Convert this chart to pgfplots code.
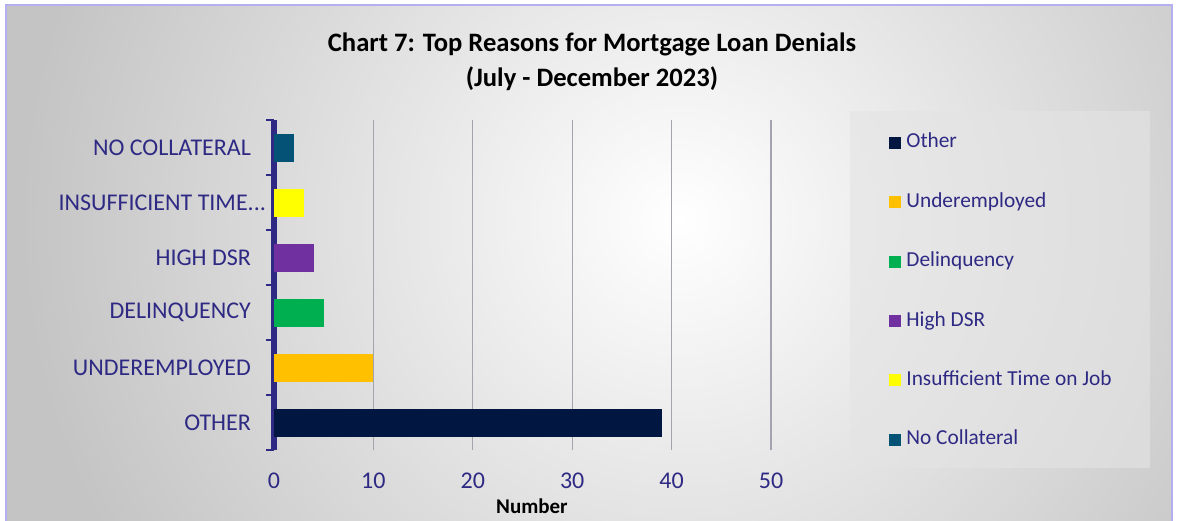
\documentclass[border=0pt]{standalone}
\usepackage{fontspec}
\setmainfont{Carlito}
\usepackage{pgfplots}
\pgfplotsset{compat=1.18}
\definecolor{txt}{HTML}{2E2A84}
\definecolor{gridc}{HTML}{A4A4B0}
\definecolor{bgedge}{HTML}{C4C4C4}
\definecolor{framec}{HTML}{B4B0F0}
\definecolor{legfill}{HTML}{E4E4E4}
\definecolor{cother}{HTML}{011640}
\definecolor{cunder}{HTML}{FFC000}
\definecolor{cdelin}{HTML}{00B050}
\definecolor{cdsr}{HTML}{7030A0}
\definecolor{cinsuf}{HTML}{FFFF00}
\definecolor{ccoll}{HTML}{045376}

\begin{document}
\begin{tikzpicture}[x=1pt,y=1pt]
\useasboundingbox (0,0) rectangle (588.5,260);
\fill[white] (0,0) rectangle (588.5,260);
% background panel with soft radial gradient
\begin{scope}
  \clip (3,-5) rectangle (586,257.5);
  \fill[bgedge] (3,-5) rectangle (586,257.5);
  \shade[inner color=white, outer color=bgedge] (340,150) ellipse [x radius=330, y radius=320];
\end{scope}
\draw[framec, line width=1pt] (3,-5) -- (3,257.5) -- (586,257.5) -- (586,-5);
% legend panel
\fill[legfill, opacity=0.6] (425,26) rectangle (575,204.5);
% title
\node[align=center, font=\bfseries\fontsize{13.3}{17.5}\selectfont] at (296,229.3)
  {Chart 7: Top Reasons for Mortgage Loan Denials\\(July - December 2023)};

\begin{axis}[
  at={(137pt,35pt)}, anchor=south west,
  width=248.5pt, height=165pt, scale only axis,
  clip=false,
  xbar, bar width=14pt, bar shift=0pt,
  xmin=0, xmax=50, ymin=-0.5, ymax=5.5,
  xtick={10,20,...,50},
  extra x ticks={0},
  extra x tick style={grid=major, major grid style={draw=txt, line width=2.6pt}},
  ytick={0,...,5},
  yticklabels={OTHER,UNDEREMPLOYED,DELINQUENCY,HIGH DSR,INSUFFICIENT TIME.{}.{}.\kern-7.5pt,NO COLLATERAL},
  minor ytick={-0.5,0.5,...,5.5},
  axis lines=left,
  axis line style={-},
  x axis line style={draw=none},
  y axis line style={draw=txt, line width=2.6pt},
  major tick length=0pt,
  minor tick length=4pt,
  tick align=outside,
  every minor y tick/.style={draw=txt, line width=1.4pt},
  xmajorgrids,
  grid style={gridc, line width=0.6pt},
  /pgf/number format/assume math mode=true,
  tick label style={font=\fontsize{12}{14}\selectfont, text=txt},
  xticklabel style={anchor=center, yshift=-15.5pt},
  yticklabel style={anchor=east, xshift=-8pt},
  xlabel={Number},
  xlabel style={at={(axis description cs:0.519,0)}, anchor=center, yshift=-28pt,
    font=\bfseries\fontsize{10.5}{12}\selectfont},
  legend style={at={(1.2374,0.9594)}, anchor=north west, draw=none, fill=none,
    inner sep=0pt, row sep=20.7pt,
    font=\fontsize{10.67}{12}\selectfont, text=txt,
    nodes={inner sep=0pt, text height=7pt, text depth=2pt},
    /tikz/every odd column/.append style={column sep=2.5pt}},
  legend cell align=left,
  legend image code/.code={\fill[#1] (0pt,-3pt) rectangle (6pt,3pt);},
]
\addplot[fill=cother, draw=none] coordinates {(39,0)};
\addplot[fill=cunder, draw=none] coordinates {(10,1)};
\addplot[fill=cdelin, draw=none] coordinates {(5,2)};
\addplot[fill=cdsr, draw=none] coordinates {(4,3)};
\addplot[fill=cinsuf, draw=none] coordinates {(3,4)};
\addplot[fill=ccoll, draw=none] coordinates {(2,5)};
\legend{Other,Underemployed,Delinquency,High DSR,Insufficient Time on Job,No Collateral}
\end{axis}
\end{tikzpicture}
\end{document}
